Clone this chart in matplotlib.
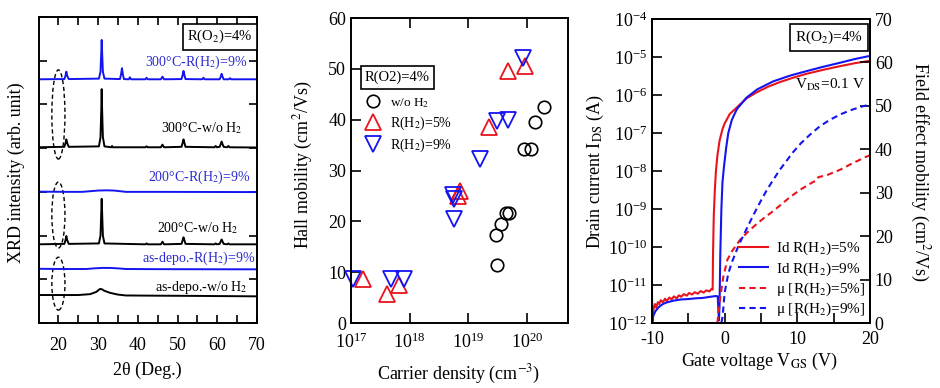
import numpy as np
import matplotlib
matplotlib.use('Agg')
import matplotlib.pyplot as plt
from matplotlib.patches import Ellipse
from matplotlib.ticker import (LogLocator, LogFormatterMathtext, MultipleLocator,
                               NullLocator, FixedLocator, NullFormatter)
from matplotlib.lines import Line2D

plt.rcParams['font.family'] = ['Liberation Serif', 'DejaVu Serif']
plt.rcParams['mathtext.fontset'] = 'stix'
plt.rcParams['font.size'] = 12
plt.rcParams['axes.unicode_minus'] = False

RED = '#e8141c'
BLUE = '#1414f0'
TBLUE = '#2a2ad0'
TICK_FS = 13

# ---------------- Panel 1 data: XRD traces (2theta, offset intensity) ----------------
xrd_300_h9_x = [15, 21.5, 21.8, 22.0, 22.2, 22.6, 30.2, 30.6, 30.8, 30.9, 31.0, 31.2, 31.6,
                35.5, 35.8, 36.0, 36.2, 36.5, 37.7, 38.0, 38.3, 41.9, 42.2, 42.5,
                45.8, 46.2, 46.6, 51.0, 51.3, 51.5, 51.7, 52.0, 56.2, 56.5, 56.8,
                60.6, 60.9, 61.1, 61.3, 61.6, 62.9, 63.2, 63.5, 70]
xrd_300_h9_y = [5.575, 5.58, 5.66, 5.75, 5.66, 5.58, 5.59, 5.75, 6.2, 6.475, 6.2, 5.75, 5.59,
                5.58, 5.7, 5.83, 5.7, 5.58, 5.575, 5.62, 5.575, 5.575, 5.61, 5.575,
                5.575, 5.635, 5.575, 5.58, 5.68, 5.765, 5.68, 5.58, 5.575, 5.61, 5.575,
                5.575, 5.64, 5.70, 5.64, 5.575, 5.575, 5.60, 5.575, 5.575]

xrd_300_w_x = [15, 21.5, 21.8, 22.0, 22.2, 22.6, 30.2, 30.6, 30.8, 30.9, 31.0, 31.2, 31.6,
               33.3, 33.5, 33.7, 41.9, 42.2, 42.5, 45.8, 46.2, 46.6,
               51.0, 51.3, 51.5, 51.7, 52.0, 59.3, 59.6, 59.9,
               60.6, 60.9, 61.1, 61.3, 61.6, 62.5, 62.8, 63.1, 70]
xrd_300_w_y = [4.02, 4.03, 4.12, 4.20, 4.12, 4.03, 4.04, 4.25, 4.9, 5.35, 4.9, 4.25, 4.04,
               4.02, 4.05, 4.02, 4.02, 4.04, 4.02, 4.02, 4.08, 4.02,
               4.03, 4.13, 4.20, 4.13, 4.03, 4.02, 4.05, 4.02,
               4.03, 4.10, 4.15, 4.10, 4.03, 4.02, 4.05, 4.02, 4.015]

xrd_200_h9_x = [15, 22, 26, 28, 30, 32, 34, 35.5, 37, 45, 55, 70]
xrd_200_h9_y = [3.005, 3.0, 3.0, 3.015, 3.03, 3.035, 3.03, 3.015, 3.0, 3.0, 2.998, 2.995]

xrd_200_w_x = [15, 21.5, 21.8, 22.0, 22.2, 22.6, 30.2, 30.6, 30.8, 30.9, 31.0, 31.2, 31.6,
               41.9, 42.2, 42.5, 45.8, 46.2, 46.6, 51.0, 51.3, 51.5, 51.7, 52.0,
               59.3, 59.6, 59.9, 60.6, 60.9, 61.1, 61.3, 61.6, 62.5, 62.8, 63.1, 70]
xrd_200_w_y = [1.80, 1.81, 1.90, 1.99, 1.90, 1.81, 1.82, 2.0, 2.55, 2.84, 2.55, 2.0, 1.82,
               1.80, 1.82, 1.80, 1.80, 1.86, 1.80, 1.81, 1.90, 1.96, 1.90, 1.81,
               1.80, 1.82, 1.80, 1.81, 1.87, 1.91, 1.87, 1.81, 1.80, 1.82, 1.80, 1.80]

xrd_as_h9_x = [15, 22, 27, 29, 31, 33, 35, 37, 45, 55, 70]
xrd_as_h9_y = [1.24, 1.235, 1.235, 1.25, 1.26, 1.26, 1.25, 1.235, 1.232, 1.23, 1.228]

xrd_as_w_x = [15, 20, 25, 28, 29.5, 30.5, 31.0, 31.5, 33, 35, 37, 45, 55, 70]
xrd_as_w_y = [0.64, 0.64, 0.64, 0.66, 0.71, 0.78, 0.77, 0.74, 0.69, 0.65, 0.63, 0.625, 0.62, 0.61]

xrd_labels = ['300°C-R(H$_2$)=9%', '300°C-w/o H$_2$', '200°C-R(H$_2$)=9%',
              '200°C-w/o H$_2$', 'as-depo.-R(H$_2$)=9%', 'as-depo.-w/o H$_2$']
xrd_label_x = [67.5, 66.2, 68.2, 65.2, 69.5, 67.7]
xrd_label_y = [5.97, 4.46, 3.34, 2.17, 1.49, 0.82]
xrd_label_c = [TBLUE, 'black', TBLUE, 'black', TBLUE, 'black']

ellipse_center_y = [4.77, 2.47, 0.90]
ellipse_height = [2.04, 1.51, 1.21]

# ---------------- Panel 2 data: Hall mobility vs carrier density ----------------
wo_logn = [19.49, 19.48, 19.55, 19.64, 19.70, 19.95, 20.07, 20.14, 20.29]
wo_mu = [11.4, 17.3, 19.5, 21.6, 21.7, 34.2, 34.2, 39.5, 42.4]
h5_logn = [17.21, 17.62, 17.81, 18.82, 18.85, 19.35, 19.68, 19.97]
h5_mu = [8.6, 5.8, 7.4, 25.0, 26.0, 38.5, 49.5, 50.6]
h9_logn = [17.04, 17.69, 17.90, 18.74, 18.76, 18.75, 19.20, 19.49, 19.68, 19.94]
h9_mu = [8.6, 8.7, 8.7, 25.2, 24.3, 20.4, 32.3, 39.7, 39.9, 52.2]

# ---------------- Panel 3 data: transfer curves ----------------
id5_v = [-10.0, -9.95, -9.8, -9.6, -9.4, -9.2, -9.0, -8.8, -8.5, -8.2, -8.0, -7.6, -7.3, -7.0,
         -6.6, -6.3, -6.0, -5.6, -5.2, -4.9, -4.5, -4.1, -3.7, -3.3, -2.9, -2.5, -2.1, -1.8,
         -1.65, -1.6, -1.5, -1.35, -1.2, -1.0, -0.7, -0.3, 0.0, 0.7, 1.5, 2.1, 3.0, 4.4, 6.0,
         7.6, 9.5, 11.3, 13.5, 15.9, 18.0, 20.0]
id5_log = [-11.2, -11.97, -11.65, -11.5, -11.6, -11.45, -11.5, -11.4, -11.45, -11.36, -11.42,
           -11.33, -11.38, -11.3, -11.35, -11.27, -11.31, -11.24, -11.28, -11.21, -11.25,
           -11.19, -11.23, -11.16, -11.2, -11.14, -11.17, -11.1, -11.12, -10.2, -9.2, -8.5,
           -8.0, -7.6, -7.2, -6.9, -6.75, -6.5, -6.36, -6.25, -6.09, -5.93, -5.78, -5.66,
           -5.54, -5.44, -5.34, -5.24, -5.16, -5.10]
id9_v = [-10.0, -9.95, -9.8, -9.5, -9.0, -8.5, -8.0, -7.0, -6.0, -5.0, -4.0, -3.0, -2.0,
         -1.2, -0.95, -0.85, -0.78, -0.7, -0.6, -0.45, -0.3, -0.1, 0.2, 0.5, 1.0, 1.66,
         3.0, 4.5, 6.7, 9.0, 11.3, 13.5, 15.9, 18.0, 20.0]
id9_log = [-11.57, -11.95, -11.8, -11.68, -11.57, -11.5, -11.46, -11.41, -11.38, -11.37,
           -11.35, -11.34, -11.31, -11.29, -11.3, -11.7, -11.93, -11.5, -10.2, -9.0, -8.3,
           -7.9, -7.4, -7.0, -6.65, -6.38, -6.07, -5.85, -5.64, -5.49, -5.37, -5.26, -5.15,
           -5.05, -4.97]
mu5_v = [-1.0, -0.6, -0.2, 0.36, 1.0, 2.1, 3.2, 4.4, 5.5, 6.7, 8.0, 9.0, 10.5, 12.2, 12.6,
         12.9, 14.0, 15.9, 17.5, 19.5, 20.0]
mu5 = [0.0, 6.0, 10.5, 14.5, 16.5, 19.1, 21.0, 22.8, 24.3, 25.8, 27.6, 29.0, 30.8, 32.5,
       32.7, 33.6, 34.0, 35.3, 36.7, 38.3, 38.6]
mu9_v = [-0.45, -0.28, 0.0, 0.5, 1.0, 1.66, 2.3, 3.0, 3.7, 4.4, 5.1, 5.8, 6.7, 7.6, 8.5,
         9.4, 10.5, 11.7, 13.1, 14.5, 16.0, 17.5, 19.0, 20.0]
mu9 = [0.0, 1.5, 7.0, 11.4, 14.0, 16.8, 19.2, 21.6, 24.0, 26.3, 28.5, 30.6, 33.0, 35.3,
       37.3, 39.3, 41.4, 43.3, 45.3, 46.8, 48.1, 49.1, 49.9, 50.3]

# ---------------- Figure ----------------
fig = plt.figure(figsize=(9.4, 3.88), dpi=100)
ax1 = fig.add_axes([0.041, 0.1675, 0.2324, 0.7887])
ax2 = fig.add_axes([0.3734, 0.1675, 0.2309, 0.786])
ax3 = fig.add_axes([0.6936, 0.1675, 0.2319, 0.7835])

for ax in (ax1, ax2, ax3):
    for s in ax.spines.values():
        s.set_linewidth(1.4)

# ---- Panel 1
traces = [(xrd_300_h9_x, xrd_300_h9_y, BLUE), (xrd_300_w_x, xrd_300_w_y, 'black'),
          (xrd_200_h9_x, xrd_200_h9_y, BLUE), (xrd_200_w_x, xrd_200_w_y, 'black'),
          (xrd_as_h9_x, xrd_as_h9_y, BLUE), (xrd_as_w_x, xrd_as_w_y, 'black')]
for xs, ys, c in traces:
    ax1.plot(xs, ys, color=c, lw=1.4)
for t, x, y, c in zip(xrd_labels, xrd_label_x, xrd_label_y, xrd_label_c):
    ax1.text(x, y, t, color=c, fontsize=10, ha='right', va='center')
for cy, h in zip(ellipse_center_y, ellipse_height):
    ax1.add_patch(Ellipse((20.0, cy), 3.3, h, fill=False, ls=(0, (3, 2)), lw=1.0, color='black'))
ax1.text(0.831, 0.936, 'R(O$_2$)=4%', transform=ax1.transAxes, ha='center', va='center',
         fontsize=10.5, bbox=dict(boxstyle='square,pad=0.3', fc='white', ec='black', lw=1.2))
ax1.set_xlim(15, 70)
ax1.set_ylim(0, 7)
ax1.xaxis.set_major_locator(FixedLocator([20, 30, 40, 50, 60, 70]))
ax1.xaxis.set_minor_locator(FixedLocator([25, 35, 45, 55, 65]))
ax1.yaxis.set_major_locator(MultipleLocator(1))
ax1.yaxis.set_major_formatter(NullFormatter())
ax1.tick_params(which='both', direction='in', top=True, right=True, length=6, width=1.2,
                labelsize=TICK_FS)
ax1.tick_params(axis='x', which='major', pad=10)
ax1.set_xlabel('2θ (Deg.)', fontsize=13)
ax1.xaxis.set_label_coords(0.5, -0.154)
ax1.xaxis.label.set_va('center')
ax1.set_ylabel('XRD intensity (arb. unit)', fontsize=13)
ax1.yaxis.set_label_coords(-0.1, 0.49)
ax1.yaxis.label.set_va('center')

# ---- Panel 2
l_wo, = ax2.plot(np.power(10.0, wo_logn), wo_mu, 'o', ms=9, mfc='none', mec='black', mew=1.2,
                 clip_on=False, label='w/o H$_2$')
l_h5, = ax2.plot(np.power(10.0, h5_logn), h5_mu, '^', ms=11, mfc='none', mec=RED, mew=1.3,
                 clip_on=False, label='R(H$_2$)=5%')
l_h9, = ax2.plot(np.power(10.0, h9_logn), h9_mu, 'v', ms=11, mfc='none', mec=BLUE, mew=1.3,
                 clip_on=False, label='R(H$_2$)=9%')
ax2.set_xscale('log')
ax2.set_xlim(1e17, 10 ** 20.7)
ax2.set_ylim(0, 60)
ax2.xaxis.set_major_locator(FixedLocator([1e17, 1e18, 1e19, 1e20]))
ax2.xaxis.set_major_formatter(LogFormatterMathtext())
ax2.xaxis.set_minor_locator(NullLocator())
ax2.yaxis.set_major_locator(MultipleLocator(10))
ax2.tick_params(which='both', direction='in', top=True, right=False, length=7, width=1.2,
                labelsize=TICK_FS)
ax2.tick_params(axis='x', pad=7)
ax2.set_xlabel('Carrier density (cm$^{-3}$)', fontsize=13)
ax2.xaxis.set_label_coords(0.498, -0.17)
ax2.xaxis.label.set_va('center')
ax2.set_ylabel('Hall mobility (cm$^2$/Vs)', fontsize=13)
ax2.yaxis.set_label_coords(-0.22, 0.518)
ax2.yaxis.label.set_va('center')
ax2.text(0.214, 0.805, 'R(O2)=4%', transform=ax2.transAxes, ha='center', va='center',
         fontsize=10.5, bbox=dict(boxstyle='square,pad=0.3', fc='white', ec='black', lw=1.2))
leg2 = ax2.legend(handles=[l_wo, l_h5, l_h9], loc='upper left', bbox_to_anchor=(0.07, 0.745),
                  frameon=False, fontsize=10, borderaxespad=0, borderpad=0, handlelength=1.0,
                  handletextpad=0.7, labelspacing=0.35)
leg2.get_texts()[0].set_fontsize(9.5)

# ---- Panel 3
ax3.plot(id5_v, np.power(10.0, id5_log), color=RED, lw=1.5)
ax3.plot(id9_v, np.power(10.0, id9_log), color=BLUE, lw=1.5)
ax3.set_yscale('log')
ax3.set_xlim(-10, 20)
ax3.set_ylim(1e-12, 1e-4)
ax3.yaxis.set_major_locator(LogLocator(base=10, numticks=20))
ax3.yaxis.set_major_formatter(LogFormatterMathtext())
ax3.yaxis.set_minor_locator(NullLocator())
ax3.xaxis.set_major_locator(MultipleLocator(10))
ax3.xaxis.set_minor_locator(MultipleLocator(5))
ax3.tick_params(which='both', direction='in', top=False, right=False, length=7, width=1.2,
                labelsize=TICK_FS)
ax3.tick_params(axis='x', pad=6)
ax3.set_xlabel('Gate voltage V$_{\\rm GS}$ (V)', fontsize=13)
ax3.xaxis.set_label_coords(0.495, -0.128)
ax3.xaxis.label.set_va('center')
ax3.set_ylabel('Drain current I$_{\\rm DS}$ (A)', fontsize=13)
ax3.yaxis.set_label_coords(-0.261, 0.497)
ax3.yaxis.label.set_va('center')

ax3r = ax3.twinx()
for s in ax3r.spines.values():
    s.set_linewidth(1.4)
ax3r.plot(mu5_v, mu5, color=RED, lw=1.5, ls=(0, (3, 2)))
ax3r.plot(mu9_v, mu9, color=BLUE, lw=1.5, ls=(0, (3, 2)))
ax3r.set_ylim(0, 70)
ax3r.yaxis.set_major_locator(MultipleLocator(10))
ax3r.tick_params(direction='in', length=7, width=1.2, labelsize=TICK_FS)
ax3r.set_ylabel('Field effect mobility (cm$^2$/Vs)', fontsize=13, rotation=270)
ax3r.yaxis.set_label_coords(1.229, 0.497)
ax3r.yaxis.label.set_va('center')

ax3r.text(0.812, 0.939, 'R(O$_2$)=4%', transform=ax3.transAxes, ha='center', va='center',
          fontsize=11, bbox=dict(boxstyle='square,pad=0.3', fc='white', ec='black', lw=1.2))
ax3r.text(0.975, 0.783, 'V$_{\\rm DS}$=0.1 V', transform=ax3.transAxes, ha='right',
          va='center', fontsize=11)

handles3 = [Line2D([], [], color=RED, lw=1.5), Line2D([], [], color=BLUE, lw=1.5),
            Line2D([], [], color=RED, lw=1.5, ls=(0, (3, 2))),
            Line2D([], [], color=BLUE, lw=1.5, ls=(0, (3, 2)))]
labels3 = ['Id R(H$_2$)=5%', 'Id R(H$_2$)=9%', 'μ [R(H$_2$)=5%]', 'μ [R(H$_2$)=9%]']
ax3r.legend(handles3, labels3, loc='lower right', bbox_to_anchor=(1.0, 0.0), frameon=False,
            fontsize=11, borderaxespad=0.2, borderpad=0.1, handlelength=1.9,
            handletextpad=0.5, labelspacing=0.2)

fig.savefig('out.png', dpi=100)
